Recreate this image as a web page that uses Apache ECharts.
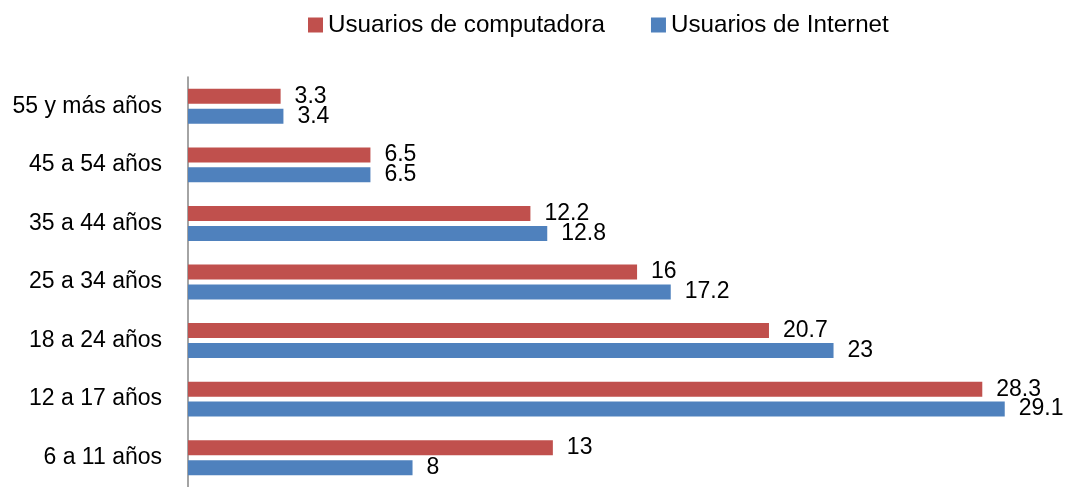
<!DOCTYPE html>
<html>
<head>
<meta charset="utf-8">
<script src="https://cdn.jsdelivr.net/npm/echarts@6/dist/echarts.min.js"></script>
<style>html,body{margin:0;padding:0;background:#fff;}#c{width:1072px;height:487px;}</style>
</head>
<body>
<div id="c"></div>
<script>
const categories = ['6 a 11 años', '12 a 17 años', '18 a 24 años', '25 a 34 años', '35 a 44 años', '45 a 54 años', '55 y más años'];
const computadora = [13, 28.3, 20.7, 16, 12.2, 6.5, 3.3];
const internet = [8, 29.1, 23, 17.2, 12.8, 6.5, 3.4];
const seriesNames = ['Usuarios de computadora', 'Usuarios de Internet'];

const FONT = '"Liberation Sans", Arial, sans-serif';
const chart = echarts.init(document.getElementById('c'), null, {renderer: 'canvas'});
const labelStyle = {
  show: true, position: 'right', distance: 14,
  color: '#000', fontSize: 23, fontFamily: FONT
};
chart.setOption({
  animation: false,
  textStyle: {fontFamily: FONT},
  legend: {
    top: 8, left: 303,
    itemWidth: 15, itemHeight: 15, itemGap: 46,
    icon: 'rect',
    textStyle: {fontSize: 24.2, color: '#000', fontFamily: FONT},
    data: seriesNames
  },
  grid: {left: 188, right: 42, top: 77, bottom: -7, containLabel: false},
  xAxis: {
    type: 'value', min: 0, max: 30, show: false,
    splitLine: {show: false}
  },
  yAxis: {
    type: 'category', data: categories,
    axisLine: {show: true, lineStyle: {color: '#868686', width: 1.5}},
    axisTick: {show: false},
    axisLabel: {fontSize: 23, color: '#000', margin: 26, fontFamily: FONT}
  },
  series: [
    {
      name: seriesNames[0], type: 'bar', data: computadora,
      barWidth: 15, barGap: '33%',
      itemStyle: {color: '#C0504D'},
      label: labelStyle
    },
    {
      name: seriesNames[1], type: 'bar', data: internet,
      barWidth: 15, barGap: '33%',
      itemStyle: {color: '#4F81BD'},
      label: labelStyle
    }
  ]
});
</script>
</body>
</html>
